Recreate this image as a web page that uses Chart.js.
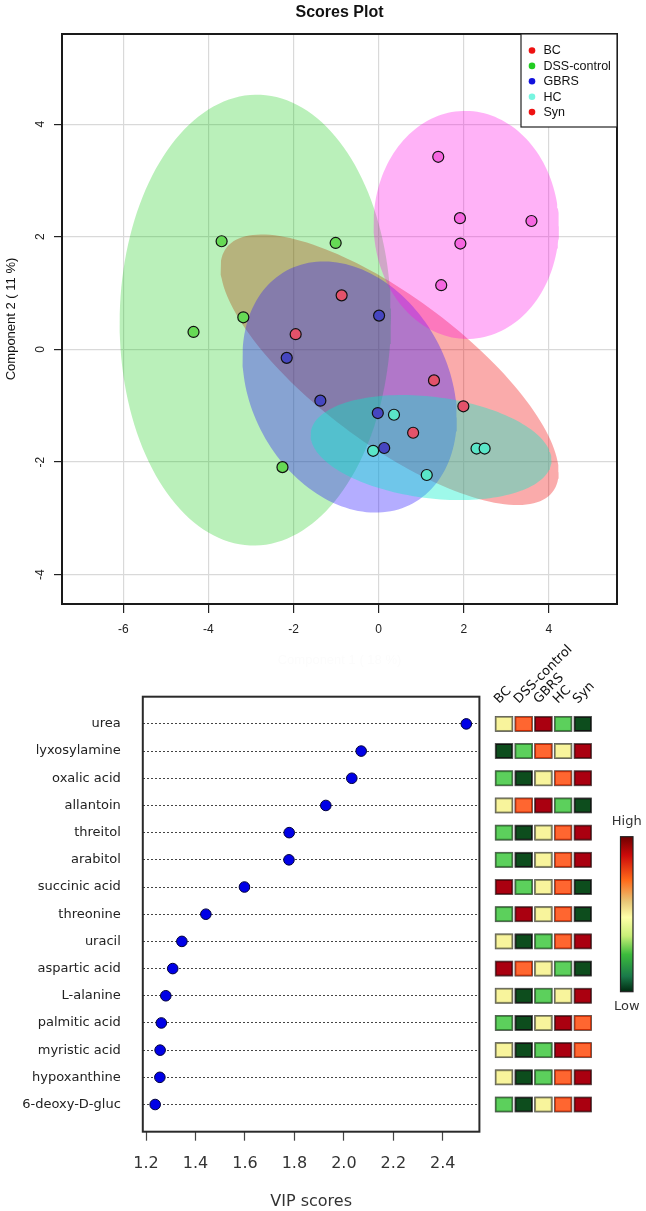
<!DOCTYPE html>
<html><head><meta charset="utf-8">
<script src="https://cdn.jsdelivr.net/npm/chart.js@4.4.1/dist/chart.umd.min.js"></script>
<style>
html,body{margin:0;padding:0;background:#fff;width:646px;height:1211px;overflow:hidden;position:relative}
#c1{position:absolute;left:0;top:0}
#c2{position:absolute;left:0;top:640px}
</style></head><body>
<canvas id="c1" width="646" height="680"></canvas>
<canvas id="c2" width="646" height="571"></canvas>
<script>
// ---------- Scores plot data ----------
const groupNames = ['BC','DSS-control','GBRS','HC','Syn'];
const bcX   = [-0.87,-1.95, 1.30, 1.99, 0.81];
const bcY   = [ 0.96, 0.27,-0.55,-1.01,-1.48];
const dssX  = [-3.69,-1.01,-3.18,-4.35,-2.26];
const dssY  = [ 1.92, 1.89, 0.57, 0.31,-2.09];
const gbrsX = [ 0.01,-2.16,-1.37,-0.02, 0.13];
const gbrsY = [ 0.60,-0.15,-0.91,-1.13,-1.75];
const hcX   = [ 0.36,-0.13, 1.13, 2.30, 2.49];
const hcY   = [-1.16,-1.80,-2.23,-1.76,-1.76];
const synX  = [ 1.40, 1.91, 3.59, 1.92, 1.47];
const synY  = [ 3.42, 2.33, 2.28, 1.88, 1.14];
const scoreXTicks = [-6,-4,-2,0,2,4];
const scoreYTicks = [-4,-2,0,2,4];

// ---------- VIP data ----------
const metabolites = ['urea','lyxosylamine','oxalic acid','allantoin','threitol','arabitol','succinic acid','threonine','uracil','aspartic acid','L-alanine','palmitic acid','myristic acid','hypoxanthine','6-deoxy-D-gluc'];
const vipScores = [2.495,2.070,2.032,1.927,1.779,1.778,1.598,1.442,1.345,1.308,1.280,1.262,1.257,1.256,1.237];
const vipTicks = [1.2,1.4,1.6,1.8,2.0,2.2,2.4];
// heat levels 1 (low) .. 5 (high), per group column
const heatBC   = [3,1,2,3,2,2,5,2,3,5,3,2,3,3,2];
const heatDSS  = [4,2,1,4,1,1,2,5,1,4,1,1,1,1,1];
const heatGBRS = [5,4,3,5,3,3,3,3,2,3,2,3,2,2,3];
const heatHC   = [2,3,4,2,4,4,4,4,4,2,3,5,5,4,4];
const heatSyn  = [1,5,5,1,5,5,1,1,5,1,5,4,4,5,5];

// ---------- styles ----------
const groupXs = [bcX, dssX, gbrsX, hcX, synX];
const groupYs = [bcY, dssY, gbrsY, hcY, synY];
const ellipseFill = ['rgba(240,0,0,0.33)','rgba(0,200,0,0.27)','rgba(40,20,255,0.35)','rgba(0,240,200,0.38)','rgba(255,0,230,0.30)'];
const pointFill = ['#e3526a','#66d955','#4646c0','#5ae6c8','#f566e0'];
const legendDot = ['#ee1111','#22cc22','#1111dd','#77f5e0','#ee1111'];
const heatFill = {1:'#0d4d1d',2:'#5cd05c',3:'#f8f49c',4:'#ff6630',5:'#aa0010'};
const heatEdge = {1:'#111',2:'#2f7f2f',3:'#8a8a5a',4:'#c82800',5:'#5a0008'};

function confEllipse(xs, ys) {
  const n = xs.length;
  const mx = xs.reduce((a,b)=>a+b,0)/n, my = ys.reduce((a,b)=>a+b,0)/n;
  let sxx=0, syy=0, sxy=0;
  for (let i=0;i<n;i++){ const dx=xs[i]-mx, dy=ys[i]-my; sxx+=dx*dx; syy+=dy*dy; sxy+=dx*dy; }
  sxx/=(n-1); syy/=(n-1); sxy/=(n-1);
  const k = Math.sqrt(5.991); // 95% chi-square, 2 df
  const l11 = Math.sqrt(sxx), l21 = sxy/l11, l22 = Math.sqrt(Math.max(syy - l21*l21, 1e-9));
  const pts = [];
  for (let j=0;j<=160;j++){ const t = 2*Math.PI*j/160;
    pts.push({x: mx + k*l11*Math.cos(t), y: my + k*(l21*Math.cos(t) + l22*Math.sin(t))}); }
  return pts;
}

const datasets1 = [];
groupNames.forEach((g,i)=>{
  datasets1.push({label:g, data: groupXs[i].map((x,j)=>({x, y: groupYs[i][j]})), showLine:false,
    pointRadius:5.5, pointBackgroundColor: pointFill[i], pointBorderColor:'#111', pointBorderWidth:1.2, order:i});
});
groupNames.forEach((g,i)=>{
  datasets1.push({label:g+' ellipse', data: confEllipse(groupXs[i], groupYs[i]), showLine:true, fill:'shape',
    backgroundColor: ellipseFill[i], borderWidth:0, borderColor:'rgba(0,0,0,0)', pointRadius:0, tension:0, order: 10-i});
});

const topDecor = {
  id:'topDecor',
  afterDraw(chart){
    const {ctx, chartArea:a, scales} = chart;
    ctx.save();
    ctx.strokeStyle = '#1a1a1a'; ctx.lineWidth = 2;
    ctx.strokeRect(a.left, a.top, a.right-a.left, a.bottom-a.top);
    // rotated y tick labels
    ctx.fillStyle = '#222'; ctx.font = '12px "Liberation Sans", Arial, sans-serif';
    ctx.textAlign = 'center'; ctx.textBaseline = 'middle';
    scoreYTicks.forEach(v=>{
      const y = scales.y.getPixelForValue(v);
      ctx.save(); ctx.translate(41, y); ctx.rotate(-Math.PI/2); ctx.fillText(String(v), 0, 0); ctx.restore();
    });
    // title
    ctx.font = 'bold 16px "Liberation Sans", Arial, sans-serif'; ctx.fillStyle = '#111';
    ctx.fillText('Scores Plot', (a.left+a.right)/2, 13);
    // legend
    const lx = a.right - 96, ly = a.top, lw = 96, lh = 93;
    ctx.fillStyle = '#fff'; ctx.fillRect(lx, ly, lw, lh);
    ctx.strokeStyle = '#222'; ctx.lineWidth = 1.2; ctx.strokeRect(lx, ly, lw, lh);
    ctx.font = '12.5px "Liberation Sans", Arial, sans-serif'; ctx.textAlign = 'left';
    groupNames.forEach((g,i)=>{
      const yy = ly + 16.5 + i*15.4;
      ctx.fillStyle = legendDot[i]; ctx.beginPath(); ctx.arc(lx+11, yy, 3.3, 0, 2*Math.PI); ctx.fill();
      ctx.fillStyle = '#111'; ctx.fillText(g, lx+22.5, yy+0.5);
    });
    ctx.restore();
  }
};

new Chart(document.getElementById('c1'), {
  type:'scatter',
  data:{datasets: datasets1},
  options:{
    responsive:false, animation:false, devicePixelRatio:1,
    layout:{padding:{left:0, top:34, right:29, bottom:0}},
    plugins:{legend:{display:false}, tooltip:{enabled:false}},
    scales:{
      x:{type:'linear', min:-7.44, max:5.60,
        afterBuildTicks: s=>{ s.ticks = scoreXTicks.map(v=>({value:v})); },
        afterFit: s=>{ s.height = 76; },
        grid:{color:'#d9d9d9', lineWidth:1.2, tickColor:'#222', tickLength:9, tickWidth:1.2},
        border:{display:false},
        ticks:{color:'#222', font:{family:'Liberation Sans', size:12}, padding:9, maxRotation:0},
        title:{display:true, text:'Component 1 ( 18 %)', color:'#fcfcfc', font:{family:'Liberation Sans', size:13}, padding:{top:0,bottom:12}}
      },
      y:{type:'linear', min:-4.52, max:5.60,
        afterBuildTicks: s=>{ s.ticks = scoreYTicks.map(v=>({value:v})); },
        afterFit: s=>{ s.width = 62; },
        grid:{color:'#d9d9d9', lineWidth:1.2, tickColor:'#222', tickLength:8, tickWidth:1.2},
        border:{display:false},
        ticks:{display:false},
        title:{display:true, text:'Component 2 ( 11 %)', color:'#111', font:{family:'Liberation Sans', size:13}, padding:{top:4,bottom:0}}
      }
    }
  },
  plugins:[topDecor]
});

// ---------- VIP chart ----------
const heatCols = [heatBC, heatDSS, heatGBRS, heatHC, heatSyn];
const vipDecor = {
  id:'vipDecor',
  afterDraw(chart){
    const {ctx, chartArea:a, scales} = chart;
    ctx.save();
    ctx.strokeStyle = '#2a2a2a'; ctx.lineWidth = 2;
    ctx.strokeRect(a.left, a.top, a.right-a.left, a.bottom-a.top);
    // heatmap cells
    const x0 = 504, step = 19.7, cw = 17.5, ch = 15;
    metabolites.forEach((m, r)=>{
      const yc = scales.y.getPixelForValue(r+1);
      heatCols.forEach((col, c)=>{
        const xc = x0 + c*step, lv = col[r];
        ctx.fillStyle = heatFill[lv]; ctx.fillRect(xc-cw/2, yc-ch/2, cw, ch);
        ctx.strokeStyle = heatEdge[lv]; ctx.lineWidth = 1.4; ctx.strokeRect(xc-cw/2+0.7, yc-ch/2+0.7, cw-1.4, ch-1.4);
        ctx.strokeStyle = '#555'; ctx.lineWidth = 0.8; ctx.strokeRect(xc-cw/2, yc-ch/2, cw, ch);
      });
    });
    // column labels
    ctx.fillStyle = '#111'; ctx.font = '13px "DejaVu Sans", sans-serif';
    ctx.textAlign = 'left'; ctx.textBaseline = 'alphabetic';
    const yTop = scales.y.getPixelForValue(1) - 20;
    groupNames.forEach((g,c)=>{
      ctx.save(); ctx.translate(x0 + c*step - 5, yTop); ctx.rotate(-Math.PI/4); ctx.fillText(g, 0, 0); ctx.restore();
    });
    // color bar
    const bx = 620.5, bw = 12.5, by = 196.7, bh = 155;
    const grd = ctx.createLinearGradient(0, by, 0, by+bh);
    grd.addColorStop(0, '#6e0000'); grd.addColorStop(0.12, '#cc0a0a'); grd.addColorStop(0.28, '#ff6a1a');
    grd.addColorStop(0.42, '#e8c878'); grd.addColorStop(0.52, '#ffffa8'); grd.addColorStop(0.64, '#c8ee78');
    grd.addColorStop(0.76, '#3cbb3c'); grd.addColorStop(0.9, '#1a7a4a'); grd.addColorStop(1, '#002a10');
    ctx.fillStyle = grd; ctx.fillRect(bx, by, bw, bh);
    ctx.strokeStyle = '#222'; ctx.lineWidth = 1.2; ctx.strokeRect(bx, by, bw, bh);
    ctx.fillStyle = '#333'; ctx.font = '13px "DejaVu Sans", sans-serif'; ctx.textAlign = 'center'; ctx.textBaseline = 'middle';
    ctx.fillText('High', bx + bw/2, by - 15);
    ctx.fillText('Low', bx + bw/2, by + bh + 15);
    ctx.restore();
  }
};

new Chart(document.getElementById('c2'), {
  type:'scatter',
  data:{datasets:[{label:'VIP', data: vipScores.map((v,i)=>({x:v, y:i+1})), showLine:false,
    pointRadius:5.3, pointBackgroundColor:'#0000e6', pointBorderColor:'#00003a', pointBorderWidth:1}]},
  options:{
    responsive:false, animation:false, devicePixelRatio:1,
    layout:{padding:{left:0, top:56.7, right:166.6, bottom:0}},
    plugins:{legend:{display:false}, tooltip:{enabled:false}},
    scales:{
      x:{type:'linear', min:1.187, max:2.548,
        afterBuildTicks: s=>{ s.ticks = vipTicks.map(v=>({value:v})); },
        afterFit: s=>{ s.height = 79.3; },
        grid:{drawOnChartArea:false, drawTicks:true, tickLength:9, tickColor:'#444', color:'#444', tickWidth:1.2},
        border:{display:false},
        ticks:{color:'#333', font:{family:'DejaVu Sans', size:16}, padding:14, maxRotation:0, callback: v=>Number(v).toFixed(1)},
        title:{display:true, text:'VIP scores', color:'#333', font:{family:'DejaVu Sans', size:16}, padding:{top:0,bottom:0}}
      },
      y:{type:'linear', min:0, max:16, reverse:true,
        afterBuildTicks: s=>{ s.ticks = metabolites.map((m,i)=>({value:i+1})); },
        afterFit: s=>{ s.width = 142.8; },
        grid:{color:'#444', lineWidth:1, drawTicks:false, borderDash:[2,2]},
        border:{display:false, dash:[2,2]},
        ticks:{color:'#222', font:{family:'DejaVu Sans', size:13}, padding:22, callback: v=>metabolites[v-1]}
      }
    }
  },
  plugins:[vipDecor]
});
</script></body></html>
